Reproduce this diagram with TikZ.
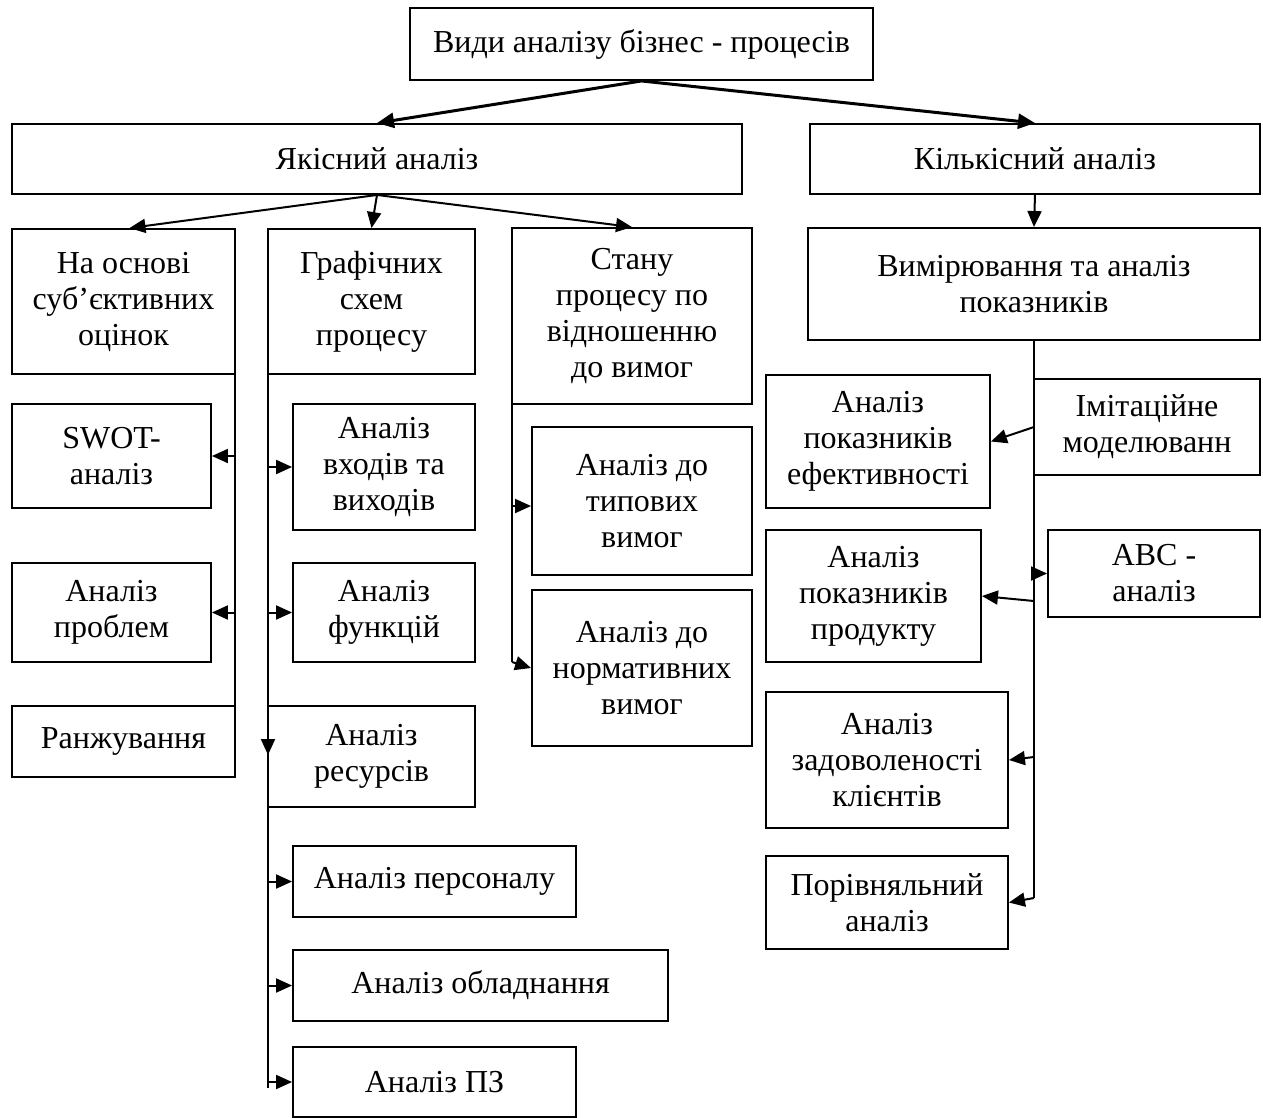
\documentclass[tikz,border=0pt]{standalone}
\usepackage{fontspec}
\setmainfont{Liberation Serif}
\usetikzlibrary{arrows.meta,calc}
\tikzset{
  box/.style={draw, line width=1.9pt, inner sep=0pt, align=center,
    font=\fontsize{32}{36}\selectfont},
  arr/.style={line width=2pt, -{Triangle[length=16pt,width=14pt]}},
  bigarr/.style={line width=3pt, -{Triangle[length=17pt,width=15pt]}},
  bus/.style={line width=2pt}
}
\newcommand{\bx}[6]{\node[box, minimum width={#4pt-#2pt}, minimum height={#5pt-#3pt}] (#1) at ({(#2+#4)/2},{(#3+#5)/2}) {#6};}
\begin{document}
\begin{tikzpicture}[x=1pt,y=-1pt]
\useasboundingbox (0,0) rectangle (1263,1117);
\bx{top}{410}{8}{873}{80}{Види аналізу бізнес - процесів}
\bx{yak}{12}{124}{742}{194}{Якісний аналіз}
\bx{kil}{810}{124}{1260}{194}{Кількісний аналіз}
\bx{osn}{12}{229}{235}{374}{На основі\\суб’єктивних\\оцінок}
\bx{graf}{268}{229}{475}{374}{Графічних\\схем\\процесу}
\bx{stan}{512}{228}{752}{404}{Стану\\процесу по\\відношенню\\до вимог}
\bx{vym}{808}{228}{1260}{340}{Вимірювання та аналіз\\показників}
\bx{swot}{12}{404}{211}{508}{SWOT-\\аналіз}
\bx{prob}{12}{563}{211}{662}{Аналіз\\проблем}
\bx{ranj}{12}{706}{235}{777}{Ранжування}
\bx{vhid}{293}{404}{475}{530}{Аналіз\\входів та\\виходів}
\bx{func}{293}{563}{475}{662}{Аналіз\\функцій}
\bx{res}{268}{706}{475}{807}{Аналіз\\ресурсів}
\bx{pers}{293}{846}{576}{917}{Аналіз персоналу}
\bx{obl}{293}{950}{668}{1021}{Аналіз обладнання}
\bx{pz}{293}{1047}{576}{1117}{Аналіз ПЗ}
\bx{typ}{532}{427}{752}{575}{Аналіз до\\типових\\вимог}
\bx{norm}{532}{590}{752}{746}{Аналіз до\\нормативних\\вимог}
\bx{efek}{766}{375}{990}{508}{Аналіз\\показників\\ефективності}
\bx{imit}{1034}{379}{1260}{475}{Імітаційне\\моделюванн}
\bx{prod}{766}{530}{981}{662}{Аналіз\\показників\\продукту}
\bx{abc}{1048}{530}{1260}{617}{ABC -\\аналіз}
\bx{zad}{766}{692}{1008}{828}{Аналіз\\задоволеності\\клієнтів}
\bx{por}{766}{856}{1008}{949}{Порівняльний\\аналіз}

% top level
\draw[bigarr] (top.south) -- (yak.north);
\draw[bigarr] (top.south) -- (kil.north);
\draw[arr] (yak.south) -- ($(osn.north)+(6,0)$);
\draw[arr] (yak.south) -- (graf.north);
\draw[arr] (yak.south) -- (stan.north);
\draw[arr] (kil.south) -- (vym.north);

% left bus
\coordinate (lb1) at (235,302);
\coordinate (lb2) at (235,740);
\draw[bus] (lb1) -- (lb2);
\draw[arr] (lb1 |- swot.east) -- (swot.east);
\draw[arr] (lb1 |- prob.east) -- (prob.east);

% graphic bus
\coordinate (gb1) at (268,302);
\coordinate (gb2) at (268,755);
\coordinate (gb3) at (268,1088);
\draw[arr] (gb1) -- (gb2);
\draw[bus] (gb2) -- (gb3);
\draw[arr] (gb1 |- vhid.west) -- (vhid.west);
\draw[arr] (gb1 |- func.west) -- (func.west);
\draw[arr] (gb1 |- pers.west) -- (pers.west);
\draw[arr] (gb1 |- obl.west) -- (obl.west);
\draw[arr] (gb1 |- pz.west) -- (pz.west);

% state bus
\coordinate (sb1) at (512,314);
\coordinate (sb2) at (512,662);
\draw[bus] (sb1) -- (sb2);
\coordinate (sa) at (512,506);
\draw[arr] (sa) -- (sa -| typ.west);
\draw[arr] (sb2) -- (norm.west);

% right bus
\coordinate (rb2) at (1034,898);
\draw[bus] (vym.south) -- (rb2);
\draw[arr] (1034,427) -- (efek.east);
\draw[arr] (1034,573.5) -- (abc.west);
\draw[arr] (1034,601) -- (prod.east);
\draw[arr] (1034,757) -- (zad.east);
\draw[arr] (rb2) -- (por.east);
\end{tikzpicture}
\end{document}
